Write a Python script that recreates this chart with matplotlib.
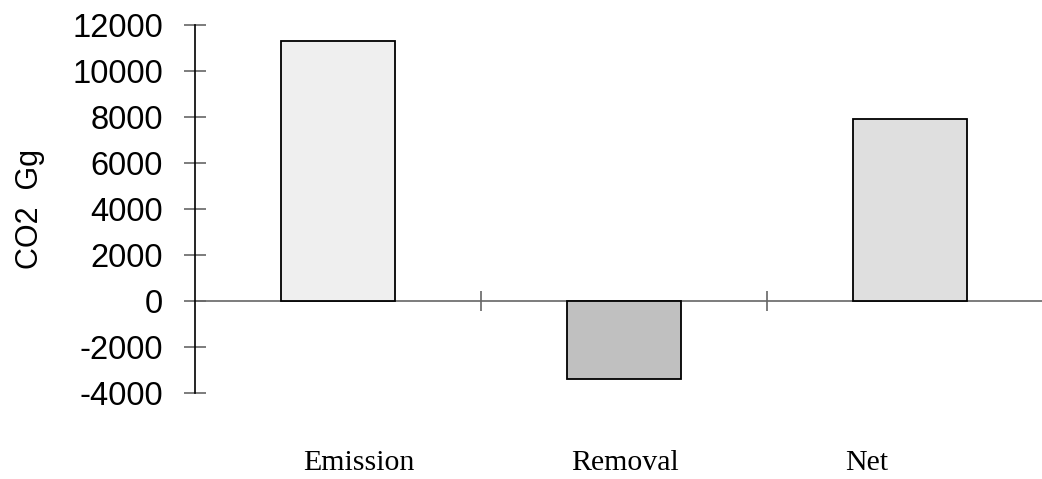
import matplotlib.pyplot as plt

categories = ["Emission", "Removal", "Net"]
values = [11300, -3400, 7900]
colors = ["#efefef", "#c0c0c0", "#dfdfdf"]
ytick_values = [-4000, -2000, 0, 2000, 4000, 6000, 8000, 10000, 12000]

plt.rcParams['font.family'] = ['Liberation Sans', 'DejaVu Sans']

fig = plt.figure(figsize=(10.42, 4.79), dpi=100)
ax = fig.add_axes([195 / 1042, 86 / 479, (1042 - 195) / 1042, 368 / 479])

x = [i + 0.5 for i in range(len(categories))]
ax.bar(x, values, width=0.4, color=colors, edgecolor="black", linewidth=1.3, zorder=3)

ax.set_xlim(0, (1042 - 195) / 286)
ax.set_ylim(-4000, 12000)

ax.spines['top'].set_visible(False)
ax.spines['right'].set_visible(False)
ax.spines['left'].set_color("black")
ax.spines['left'].set_linewidth(1.2)
ax.spines['bottom'].set_position(('data', 0))
ax.spines['bottom'].set_color("#666666")
ax.spines['bottom'].set_linewidth(1.2)
ax.spines['bottom'].set_zorder(2)

ax.set_yticks(ytick_values)
ax.set_yticklabels([str(v) for v in ytick_values], fontsize=23.5)
ax.tick_params(axis='y', direction='inout', length=16, width=1.2, color="#666666", pad=15)

ax.set_xticks([1, 2])
ax.set_xticklabels([])
ax.tick_params(axis='x', direction='inout', length=15, width=1.2, color="#666666")

ax.set_ylabel("CO2  Gg", fontsize=22)
ax.yaxis.set_label_coords(-0.177, 0.5)

label_x = [0.573, 1.503, 2.35]
for lx, name in zip(label_x, categories):
    ax.text(lx, -7350, name, ha='center', va='baseline', fontsize=21.5,
            family=['Liberation Serif', 'DejaVu Serif'])

fig.savefig("out.png", dpi=100)
